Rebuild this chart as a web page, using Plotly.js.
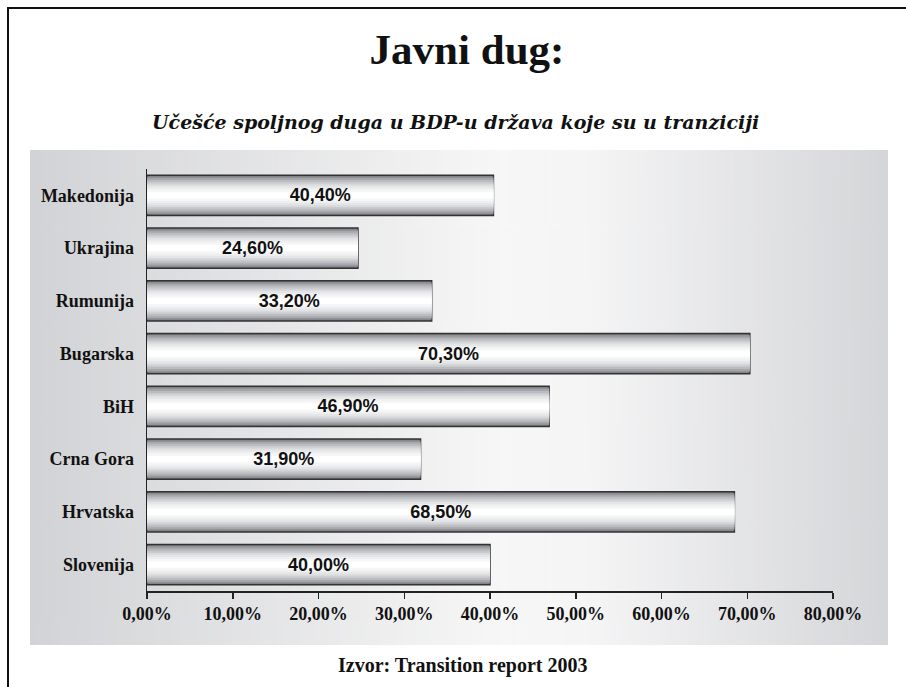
<!DOCTYPE html>
<html>
<head>
<meta charset="utf-8">
<script src="https://cdn.plot.ly/plotly-3.0.1.min.js"></script>
<style>html,body{margin:0;padding:0;background:#fff;}#chart{width:906px;height:687px;}</style>
</head>
<body>
<div id="chart"></div>
<script>
// ---- data ----
const countries = ["Makedonija", "Ukrajina", "Rumunija", "Bugarska", "BiH", "Crna Gora", "Hrvatska", "Slovenija"];
const debtShare = [40.4, 24.6, 33.2, 70.3, 46.9, 31.9, 68.5, 40.0];
const valueLabels = ["40,40%", "24,60%", "33,20%", "70,30%", "46,90%", "31,90%", "68,50%", "40,00%"];
const xTickVals = [0, 10, 20, 30, 40, 50, 60, 70, 80];
const xTickText = ["0,00%", "10,00%", "20,00%", "30,00%", "40,00%", "50,00%", "60,00%", "70,00%", "80,00%"];
const titleText = "Javni dug:";
const subtitleText = "Učešće spoljnog duga u BDP-u država koje su u tranziciji";
const sourceText = "Izvor: Transition report 2003";

// ---- style ----
const W = 906, H = 687;
const M = {l: 147, r: 73, t: 169, b: 96};
const PW = W - M.l - M.r, PH = H - M.t - M.b;
const px = x => (x - M.l) / PW;
const py = y => (H - M.b - y) / PH;

const layerWidths = [0.76, 0.71, 0.65, 0.58, 0.51, 0.44, 0.37, 0.29, 0.21, 0.12];
const layerColors = ["#7c7d82", "#929397", "#a7a8ac", "#babbbe", "#cacbce", "#d8d9db", "#e4e5e6", "#eeeff0", "#f6f6f7", "#ffffff"];

// background gradient panel (image generated locally)
const cv = document.createElement('canvas');
cv.width = 400; cv.height = 10;
const ctx = cv.getContext('2d');
const g = ctx.createLinearGradient(0, 0, 400, 0);
g.addColorStop(0, '#d2d3d6');
g.addColorStop(0.55, '#f7f7f7');
g.addColorStop(0.65, '#f5f5f6');
g.addColorStop(1, '#d5d6d9');
ctx.fillStyle = g;
ctx.fillRect(0, 0, 400, 10);
const bgURL = cv.toDataURL('image/png');

const traces = layerWidths.map((w, i) => ({
  type: 'bar',
  orientation: 'h',
  y: countries,
  x: debtShare,
  width: w,
  marker: {
    color: layerColors[i],
    line: i === 0 ? {color: '#333333', width: 1.5} : {width: 0}
  },
  hoverinfo: 'skip',
  showlegend: false
}));

traces.push({
  type: 'bar',
  orientation: 'h',
  y: countries,
  x: debtShare,
  width: 0.76,
  text: valueLabels,
  textposition: 'inside',
  insidetextanchor: 'middle',
  constraintext: 'none',
  textfont: {family: 'Liberation Sans', size: 18, color: '#111', weight: 'bold'},
  marker: {color: 'rgba(0,0,0,0)', line: {width: 0}},
  hoverinfo: 'skip',
  showlegend: false
});

const layout = {
  width: W, height: H,
  margin: M,
  paper_bgcolor: '#ffffff',
  plot_bgcolor: 'rgba(0,0,0,0)',
  barmode: 'overlay',
  title: {
    text: titleText,
    font: {family: 'Liberation Serif', size: 43, color: '#111', weight: 'bold'},
    x: 467 / W, xanchor: 'center',
    y: 1 - 49 / H, yanchor: 'middle', yref: 'container'
  },
  xaxis: {
    range: [0, 80],
    tickvals: xTickVals,
    ticktext: xTickText,
    ticks: 'outside', ticklen: 6, tickwidth: 1.5, tickcolor: '#222',
    showline: true, linecolor: '#222', linewidth: 1.5,
    showgrid: false, zeroline: false,
    tickfont: {family: 'Liberation Serif', size: 18, color: '#111', weight: 'bold'},
    fixedrange: true
  },
  yaxis: {
    autorange: 'reversed',
    showline: true, linecolor: '#222', linewidth: 1.5,
    showgrid: false, zeroline: false,
    ticks: '', ticklabelstandoff: 8,
    tickfont: {family: 'Liberation Serif', size: 18, color: '#111', weight: 'bold'},
    fixedrange: true
  },
  images: [{
    source: bgURL,
    xref: 'paper', yref: 'paper',
    x: px(30), y: py(150),
    sizex: px(888) - px(30), sizey: py(150) - py(645),
    xanchor: 'left', yanchor: 'top',
    sizing: 'stretch', layer: 'below'
  }],
  shapes: [{
    type: 'rect', xref: 'paper', yref: 'paper',
    x0: px(8), x1: px(960), y0: py(8), y1: py(740),
    line: {color: '#111', width: 2}, fillcolor: 'rgba(0,0,0,0)', layer: 'above'
  }],
  annotations: [
    {
      text: '<i>' + subtitleText + '</i>',
      xref: 'paper', yref: 'paper', x: px(455), y: py(122),
      xanchor: 'center', yanchor: 'middle', showarrow: false,
      font: {family: 'DejaVu Serif', size: 19, color: '#111', weight: 'bold'}
    },
    {
      text: sourceText,
      xref: 'paper', yref: 'paper', x: px(462), y: py(665),
      xanchor: 'center', yanchor: 'middle', showarrow: false,
      font: {family: 'Liberation Serif', size: 20, color: '#111', weight: 'bold'}
    }
  ]
};

Plotly.newPlot('chart', traces, layout, {displayModeBar: false, staticPlot: true});
</script>
</body>
</html>
